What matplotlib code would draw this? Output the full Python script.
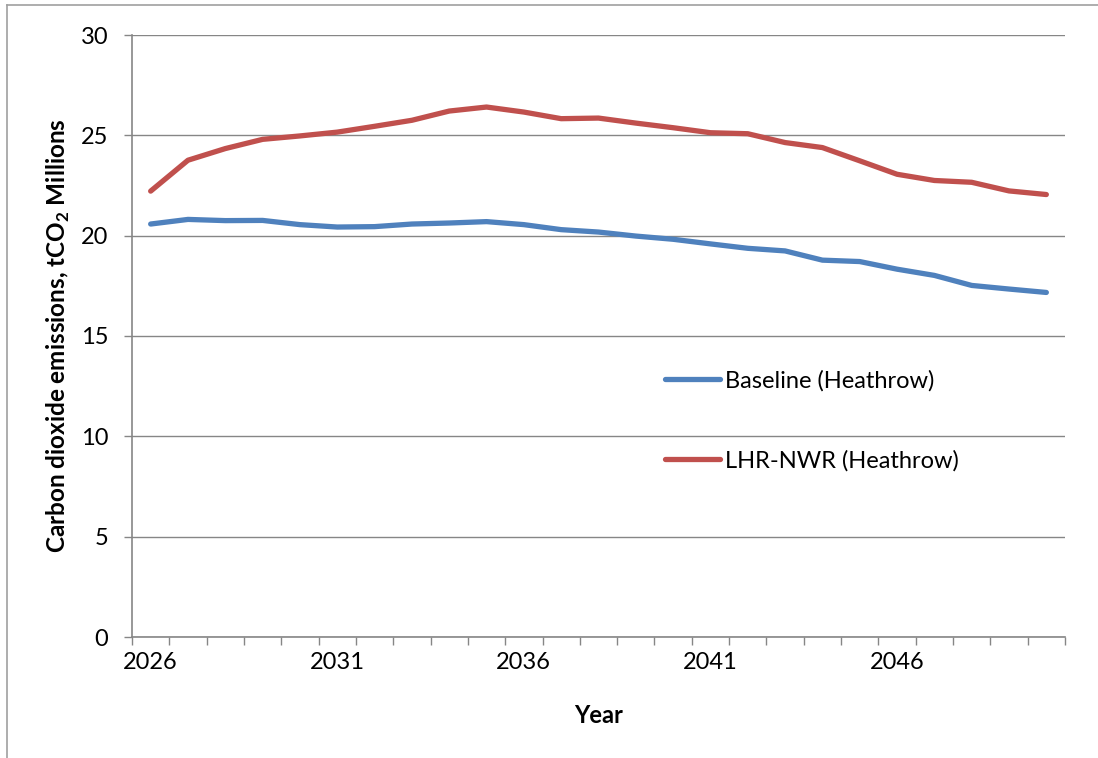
import numpy as np
import matplotlib
matplotlib.use("Agg")
import matplotlib.pyplot as plt
from matplotlib.lines import Line2D

years = list(range(2026, 2051))
baseline = [20.58, 20.81, 20.75, 20.76, 20.55, 20.43, 20.45, 20.58, 20.63, 20.70,
            20.55, 20.30, 20.18, 19.98, 19.82, 19.59, 19.37, 19.24, 18.78, 18.71,
            18.33, 18.02, 17.52, 17.34, 17.17]
lhr_nwr = [22.22, 23.76, 24.34, 24.80, 24.97, 25.16, 25.45, 25.75, 26.21, 26.41,
           26.16, 25.83, 25.86, 25.61, 25.38, 25.13, 25.08, 24.64, 24.39, 23.73,
           23.06, 22.75, 22.66, 22.23, 22.05]
label_years = [2026, 2031, 2036, 2041, 2046]
y_ticks = [0, 5, 10, 15, 20, 25, 30]
series_names = ["Baseline (Heathrow)", "LHR-NWR (Heathrow)"]

plt.rcParams['font.family'] = ['Lato', 'DejaVu Sans']
W, H = 1098, 758
fig = plt.figure(figsize=(W / 100, H / 100), dpi=100)
ax = fig.add_axes([132 / W, 1 - 637 / H, (1065 - 132) / W, (637 - 35) / H])

grey = '#868686'
ax.plot(years, baseline, color='#4F81BD', lw=3.8, solid_capstyle='round',
        solid_joinstyle='round', label=series_names[0], zorder=3)
ax.plot(years, lhr_nwr, color='#C0504D', lw=3.8, solid_capstyle='round',
        solid_joinstyle='round', label=series_names[1], zorder=3)

ax.set_xlim(years[0] - 0.5, years[-1] + 0.5)
ax.set_ylim(0, 30)
ax.set_yticks(y_ticks)
ax.yaxis.grid(True, color=grey, lw=1.0)
ax.set_axisbelow(True)

ax.set_xticks(np.arange(years[0] - 0.5, years[-1] + 1, 1.0))
ax.set_xticklabels([])
ax.set_xticks(label_years, minor=True)
ax.set_xticklabels([str(y) for y in label_years], minor=True)
ax.tick_params(axis='x', which='major', length=6, width=1, color=grey, direction='out')
ax.tick_params(axis='x', which='minor', length=0, pad=11, labelsize=17)
ax.tick_params(axis='y', length=6, width=1, color=grey, direction='out', pad=11, labelsize=17)

for s in ['top', 'right']:
    ax.spines[s].set_visible(False)
for s in ['left', 'bottom']:
    ax.spines[s].set_color(grey)
    ax.spines[s].set_linewidth(1.2)

ax.set_ylabel(r'Carbon dioxide emissions, tCO$_\mathregular{2}$ Millions',
              fontsize=17.5, fontweight='bold')
ax.yaxis.set_label_coords(-0.064, 0.5)
ax.set_xlabel('Year', fontsize=17, fontweight='bold')
ax.xaxis.set_label_coords(0.5, -0.112)

leg = ax.legend(loc='upper left', bbox_to_anchor=((665 - 132) / 933, (637 - 370) / 602),
                frameon=False, fontsize=17, handlelength=2.33, handletextpad=0.2,
                labelspacing=2.46, borderpad=0, borderaxespad=0)

# chart area border (top and left edges visible)
fig.add_artist(Line2D([7 / W, 1], [1 - 5 / H, 1 - 5 / H], transform=fig.transFigure,
                      color='#a0a0a0', lw=1.2))
fig.add_artist(Line2D([7 / W, 7 / W], [0, 1 - 5 / H], transform=fig.transFigure,
                      color='#a0a0a0', lw=1.2))

fig.savefig('out.png', dpi=100)
